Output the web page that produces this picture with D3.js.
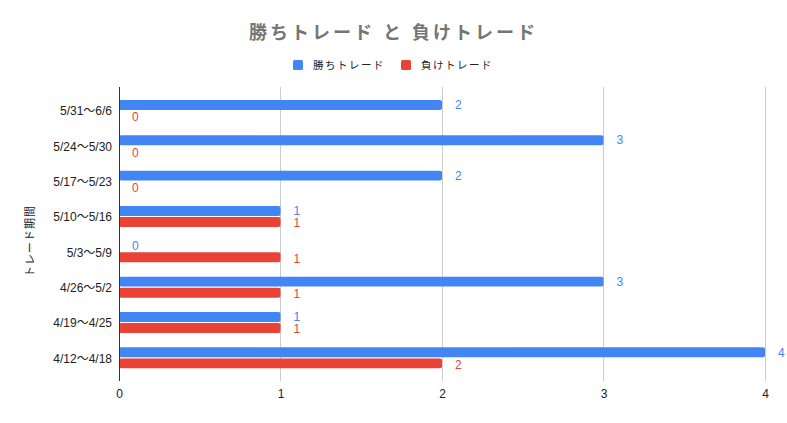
<!DOCTYPE html>
<html><head><meta charset="utf-8">
<script src="https://cdn.jsdelivr.net/npm/d3@7"></script>
<style>
body{margin:0;background:#fff;}
text{font-family:Arial,"Liberation Sans","Noto Sans CJK JP",sans-serif;}
</style></head>
<body><svg id="c" width="787" height="423"></svg>
<script>
const categories = ["5/31～6/6","5/24～5/30","5/17～5/23","5/10～5/16","5/3～5/9","4/26～5/2","4/19～4/25","4/12～4/18"];
const winTrades = [2,3,2,1,0,3,1,4];
const loseTrades = [0,0,0,1,1,1,1,2];
const seriesNames = ["勝ちトレード","負けトレード"];
const seriesColors = ["#4285F4","#EA4335"];
const xTicks = [0,1,2,3,4];
const title = "勝ちトレード と 負けトレード";
const yTitle = "トレード期間";

const svg = d3.select("#c");
const W = 787, H = 423;
svg.append("rect").attr("width",W).attr("height",H).attr("fill","#fff");

const x = d3.scaleLinear().domain([0,4]).range([119,765]);
const y = d3.scaleBand().domain(categories).range([92.8,375.5]);
const inner = d3.scaleBand().domain([0,1]).range([-10.5,10.5]).paddingInner(0.1);
const gTop = 87, gBot = 381;

// gridlines
svg.append("g").selectAll("line").data(xTicks.filter(d=>d>0)).join("line")
  .attr("x1",d=>x(d)).attr("x2",d=>x(d)).attr("y1",gTop).attr("y2",gBot)
  .attr("stroke","#cccccc").attr("stroke-width",1).attr("shape-rendering","crispEdges");

// x tick labels
const xAxis = d3.axisBottom(x).tickValues(xTicks).tickFormat(d3.format("d")).tickSize(0).tickPadding(0);
const xg = svg.append("g").attr("transform",`translate(0,${gBot+8})`).call(xAxis);
xg.select(".domain").remove();
xg.selectAll("text").attr("font-size",12).attr("fill","#222").attr("font-family","Arial,'Liberation Sans',sans-serif");

// y labels
const yAxis = d3.axisLeft(y).tickSize(0).tickPadding(0);
const yg = svg.append("g").attr("transform",`translate(112,1)`).call(yAxis);
yg.select(".domain").remove();
yg.selectAll("text").attr("font-size",12).attr("fill","#222").attr("font-family","Arial,'Liberation Sans',sans-serif");

// bars
const series = [winTrades, loseTrades];
series.forEach((vals,si)=>{
  const g = svg.append("g");
  g.selectAll("rect").data(vals).join("rect")
    .attr("x",x(0))
    .attr("y",(d,i)=>y(categories[i])+y.bandwidth()/2+inner(si))
    .attr("width",d=>x(d)-x(0))
    .attr("height",inner.bandwidth())
    .attr("rx",2)
    .attr("fill",seriesColors[si]);
  g.selectAll("text").data(vals).join("text")
    .attr("x",d=>x(d)+13)
    .attr("y",(d,i)=>y(categories[i])+y.bandwidth()/2+inner(si)+inner.bandwidth()/2+(si===1?1:0))
    .attr("dy","0.35em")
    .attr("font-size",12)
    .attr("fill",seriesColors[si])
    .text(d=>d);
});

// baseline
svg.append("line").attr("x1",x(0)).attr("x2",x(0)).attr("y1",gTop).attr("y2",gBot)
  .attr("stroke","#333").attr("stroke-width",1).attr("shape-rendering","crispEdges");

// title
svg.append("text").attr("x",393.5).attr("y",33).attr("dy","0.35em").attr("text-anchor","middle")
  .attr("font-size",18).attr("font-weight","bold").attr("fill","#757575").attr("letter-spacing","3px")
  .text(title);

// legend
const legX = [293, 401];
seriesNames.forEach((n,i)=>{
  svg.append("rect").attr("x",legX[i]).attr("y",60).attr("width",10).attr("height",10).attr("rx",1.5).attr("fill",seriesColors[i]);
  svg.append("text").attr("x",legX[i]+20).attr("y",65).attr("dy","0.35em").attr("font-size",10.5)
    .attr("letter-spacing","1.5px").attr("fill","#222").text(n);
});

// y title
svg.append("text").attr("transform","translate(30,241) rotate(-90)").attr("text-anchor","middle").attr("dy","0.35em")
  .attr("font-size",11).attr("fill","#222").attr("letter-spacing","1px").text(yTitle);
</script></body></html>
